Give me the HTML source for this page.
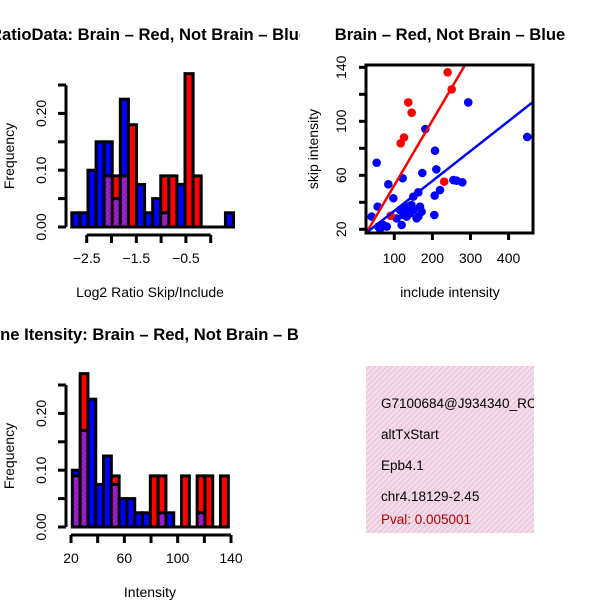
<!DOCTYPE html>
<html><head><meta charset="utf-8"><style>
html,body{margin:0;padding:0;background:#fff;}
svg{display:block;font-family:"Liberation Sans",sans-serif;}
</style></head><body>
<svg id="chart" width="600" height="600" viewBox="0 0 600 600">
<defs>
<clipPath id="clipL"><rect x="0" y="0" width="300" height="600"/></clipPath>
<clipPath id="clipBox"><rect x="366" y="366" width="168" height="167"/></clipPath>
<clipPath id="clipSc"><rect x="366" y="65" width="167" height="168"/></clipPath>
<pattern id="hatch" width="4" height="4" patternUnits="userSpaceOnUse" patternTransform="rotate(45)">
<rect width="4" height="4" fill="#f8d8f3"/><rect width="1.1" height="4" fill="#dccbc0"/></pattern>
<pattern id="purp" width="3" height="3" patternUnits="userSpaceOnUse" patternTransform="rotate(45)">
<rect width="3" height="3" fill="#a020f0"/><rect width="1.2" height="3" fill="#8a1a8a"/></pattern>
</defs>
<g id="h1" clip-path="url(#clipL)"></g>
<g id="h2" clip-path="url(#clipL)"></g>
<g id="sc"></g>
<g>
<rect x="366" y="366" width="168" height="167" fill="url(#hatch)"/>
<g clip-path="url(#clipBox)" font-size="13.5">
<text x="381" y="408">G7100684@J934340_RC</text>
<text x="381" y="439">altTxStart</text>
<text x="381" y="470">Epb4.1</text>
<text x="381" y="501">chr4.18129-2.45</text>
<text x="381" y="524" fill="#b00000">Pval: 0.005001</text>
</g></g>
</svg>
<script>
// Histogram 1: Log2 ratio
const h1Start = -2.80, h1Width = 0.163;
const h1Red  = [0,0,0,0,0.09,0.09,0.09,0.18,0,0,0,0.09,0.09,0,0.27,0.09,0,0,0,0];
const h1Blue = [0.025,0.025,0.10,0.15,0.15,0.05,0.225,0,0.075,0.025,0.05,0.025,0,0.075,0,0,0,0,0,0.025];
const h1XTicks = [-2.5,-2,-1.5,-1,-0.5,0];
const h1XLabels = ["-2.5","","-1.5","","-0.5",""];
// Histogram 2: intensity
const h2Start = 21, h2Width = 5.85;
const h2Red  = [0.09,0.27,0,0,0,0.09,0,0,0,0,0.09,0.09,0,0,0.09,0,0.09,0.09,0,0.09];
const h2Blue = [0.10,0.17,0.225,0.075,0.125,0.075,0.05,0.05,0.025,0.025,0,0.025,0.025,0,0,0,0.025,0,0,0];
const h2XTicks = [20,40,60,80,100,120,140];
const h2XLabels = ["20","","60","","100","","140"];
const yTicks = [0,0.05,0.10,0.15,0.20,0.25];
const yLabels = ["0.00","","0.10","","0.20",""];
// Scatter
const redX = [240,250.6,136.7,145.6,125.5,116.8,231,90.5];
const redY = [136.3,123.7,114,106.4,88,83.7,55.3,30];
const blueX = [294,449,181.5,53.7,206.8,210.3,173.5,122,84.3,97.5,56.3,40.6,205,220,206,255,278.6,263.7,163,150,115,132.4,106.2,119.3,71.2,58.1,80,141.2,167.5,163,123.7,150,132.4,158.7,62.5,171.8,145,128];
const blueY = [114,88.4,94.3,69.3,78.2,64.4,61.7,57.8,53.3,43,36.8,29.4,30.6,49.1,45,56.5,54.8,56,47.4,44.2,34.3,36.8,28.1,23.2,23.2,22,22,31.8,36.8,29.4,30.6,34.3,29.4,28.1,20.2,33,38,35];
const redFit = [4.6,0.48];
const blueFit = [11.5,0.2216];
const scXTicks = [100,200,300,400];
const scYTicks = [20,40,60,80,100,120,140];
const scYLabels = ["20","","60","","100","","140"];

const NS="http://www.w3.org/2000/svg";
const FS=14, TFS=16.6;
function mk(parent,tag,attrs){const e=document.createElementNS(NS,tag);for(const k in attrs)e.setAttribute(k,attrs[k]);parent.appendChild(e);return e;}

function hist(gId,start,width,reds,blues,xt,xl,xs,x0px,y0,title,titleX,xlab,axisY,tickLabY){
  const g=document.getElementById(gId);
  const yS=v=>y0-v*568;
  const xS=v=>x0px+(v-xt[0])*xs;
  for(let i=0;i<reds.length;i++){
    const l=xS(start+i*width), w=width*xs, r=reds[i], b=blues[i];
    if(r===0&&b===0) continue;
    const top=Math.max(r,b), col=r>=b?"#ff0000":"#0000ff", ov=Math.min(r,b);
    const bar=mk(g,"rect",{x:l,y:yS(top),width:w,height:yS(0)-yS(top),fill:col,stroke:"#000","stroke-width":3});
    
    
    if(ov>0){
      const p=mk(g,"rect",{x:l+1.5,y:yS(ov),width:w-3,height:yS(0)-yS(ov)-1.5,fill:"url(#purp)"});
      
      
      const ln=mk(g,"line",{x1:l,x2:l+w,y1:yS(ov),y2:yS(ov),stroke:"#000","stroke-width":3});
      
      
    }
  }
  const baseEnd=xS(start+reds.length*width);
  const bl=mk(g,"line",{x1:xS(start),x2:baseEnd,y1:yS(0),y2:yS(0),stroke:"#000","stroke-width":3});
  
  
  const ya=mk(g,"line",{x1:66,x2:66,y1:yS(0),y2:yS(0.25),stroke:"#000","stroke-width":3});
  
  
  yTicks.forEach((v,i)=>{
    const t=mk(g,"line",{x1:58,x2:66,y1:yS(v),y2:yS(v),stroke:"#000","stroke-width":3});
    
    
    if(yLabels[i]){const tx=mk(g,"text",{x:0,y:0,"font-size":FS,"text-anchor":"middle",transform:`translate(46,${yS(v)}) rotate(-90)`});tx.textContent=yLabels[i];
      
      }
  });
  const xa=mk(g,"line",{x1:xS(xt[0]),x2:xS(xt[xt.length-1]),y1:axisY,y2:axisY,stroke:"#000","stroke-width":3});
  
  
  xt.forEach((v,i)=>{
    const t=mk(g,"line",{x1:xS(v),x2:xS(v),y1:axisY,y2:axisY+8,stroke:"#000","stroke-width":3});
    
    
    if(xl[i]){const tx=mk(g,"text",{x:xS(v),y:tickLabY,"font-size":FS,"text-anchor":"middle"});tx.textContent=xl[i].replace("-","\u2212");
      
      }
  });
  const ttl=mk(g,"text",{x:titleX,y:y0-187,"font-size":TFS,"font-weight":"bold"});ttl.textContent=title;
  
  
  const xlb=mk(g,"text",{x:150,y:tickLabY+34,"font-size":FS,"text-anchor":"middle"});xlb.textContent=xlab;
  
  
  const ylb=mk(g,"text",{x:0,y:0,"font-size":FS,"text-anchor":"middle",transform:`translate(14,${yS(0.125)}) rotate(-90)`});ylb.textContent="Frequency";
  
  
}
hist("h1",h1Start,h1Width,h1Red,h1Blue,h1XTicks,h1XLabels,49.6,86.7,227,"RatioData: Brain \u2013 Red, Not Brain \u2013 Blue",-10,"Log2 Ratio Skip/Include",235,263);
hist("h2",h2Start,h2Width,h2Red,h2Blue,h2XTicks,h2XLabels,1.3333,71,527,"Gene Itensity: Brain \u2013 Red, Not Brain \u2013 Blue",-22,"Intensity",535,563);

(function(){
  const g=document.getElementById("sc");
  const xS=v=>394.3+(v-100)*0.381, yS=v=>229.3-(v-20)*1.35;
  const inner=mk(g,"g",{"clip-path":"url(#clipSc)"});
  
  
  blueX.forEach((x,i)=>{const c=mk(inner,"circle",{cx:xS(x),cy:yS(blueY[i]),r:4.3,fill:"#0000ff"});
    
    });
  redX.forEach((x,i)=>{const c=mk(inner,"circle",{cx:xS(x),cy:yS(redY[i]),r:4.3,fill:"#ff0000"});
    
    });
  const lx=[0,500];
  const rl=mk(inner,"line",{x1:xS(lx[0]),y1:yS(redFit[0]+redFit[1]*lx[0]),x2:xS(lx[1]),y2:yS(redFit[0]+redFit[1]*lx[1]),stroke:"#ff0000","stroke-width":2.5});
  
  
  const bl=mk(inner,"line",{x1:xS(lx[0]),y1:yS(blueFit[0]+blueFit[1]*lx[0]),x2:xS(lx[1]),y2:yS(blueFit[0]+blueFit[1]*lx[1]),stroke:"#0000ff","stroke-width":2.5});
  
  
  const box=mk(g,"rect",{x:366,y:65,width:167,height:168,fill:"none",stroke:"#000","stroke-width":3});
  
  
  scXTicks.forEach(v=>{
    const t=mk(g,"line",{x1:xS(v),x2:xS(v),y1:233,y2:240,stroke:"#000","stroke-width":3});
    
    
    const tx=mk(g,"text",{x:xS(v),y:263,"font-size":FS,"text-anchor":"middle"});tx.textContent=String(v);
    
    
  });
  scYTicks.forEach((v,i)=>{
    const t=mk(g,"line",{x1:359,x2:366,y1:yS(v),y2:yS(v),stroke:"#000","stroke-width":3});
    
    
    if(scYLabels[i]){const tx=mk(g,"text",{x:0,y:0,"font-size":FS,"text-anchor":"middle",transform:`translate(346,${yS(v)}) rotate(-90)`});tx.textContent=scYLabels[i];
      
      }
  });
  const tt=mk(g,"text",{x:450,y:40,"font-size":TFS,"font-weight":"bold","text-anchor":"middle"});tt.textContent="Brain \u2013 Red, Not Brain \u2013 Blue";
  
  
  const xl=mk(g,"text",{x:450,y:297,"font-size":FS,"text-anchor":"middle"});xl.textContent="include intensity";
  
  
  const yl=mk(g,"text",{x:0,y:0,"font-size":FS,"text-anchor":"middle",transform:"translate(318,149) rotate(-90)"});yl.textContent="skip intensity";
  
  
})();
</script>
</body></html>
